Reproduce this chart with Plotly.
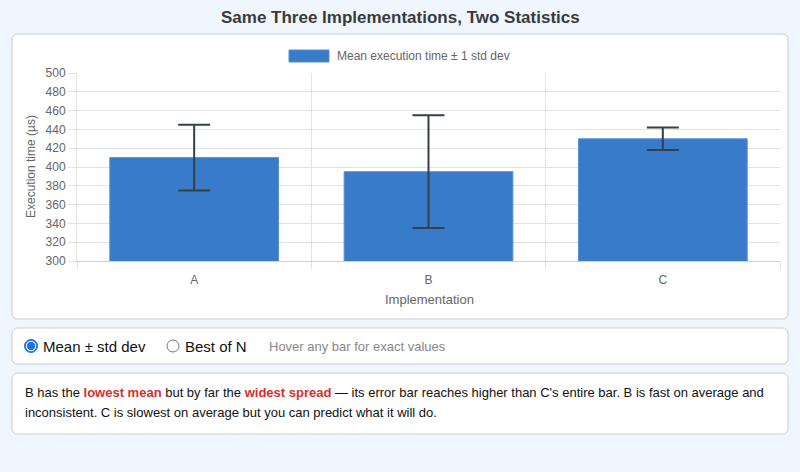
import plotly.graph_objects as go

# ---- data ----
implementations = ["A", "B", "C"]
mean_us = [410, 395, 430]
std_us = [35, 60, 12]
title_text = "Same Three Implementations, Two Statistics"
legend_text = "Mean execution time ± 1 std dev"
y_title = "Execution time (µs)"
x_title = "Implementation"

# ---- geometry helpers (pixel -> paper) ----
W, H = 800, 472
L, R, T, B = 77, 20, 73, 211
PW, PH = W - L - R, H - T - B
BG = "#eff6fe"


def px(x):
    return (x - L) / PW


def py(y):
    return (H - B - y) / PH


def rrect(x0, y0, x1, y1, r):
    pts = [
        ("M", (x0 + r, y0)), ("L", (x1 - r, y0)), ("Q", (x1, y0), (x1, y0 + r)),
        ("L", (x1, y1 - r)), ("Q", (x1, y1), (x1 - r, y1)),
        ("L", (x0 + r, y1)), ("Q", (x0, y1), (x0, y1 - r)),
        ("L", (x0, y0 + r)), ("Q", (x0, y0), (x0 + r, y0)),
    ]
    s = ""
    for p in pts:
        cmd = p[0]
        coords = " ".join(f"{px(a):.5f},{py(b):.5f}" for a, b in p[1:])
        s += f"{cmd} {coords} "
    return s + "Z"


def circ(cx, cy, r, **kw):
    return dict(type="circle", xref="paper", yref="paper",
                x0=px(cx - r), x1=px(cx + r), y0=py(cy + r), y1=py(cy - r), **kw)


FONT = "Liberation Sans, Arial, Helvetica, sans-serif"
BLUE = "#377bc9"

fig = go.Figure()
fig.add_trace(go.Bar(
    x=implementations, y=mean_us, width=0.72,
    marker=dict(color=BLUE, line=dict(color="#5a8fd6", width=1)),
    error_y=dict(type="data", array=std_us, visible=True,
                 color="#354049", thickness=2, width=16),
    name=legend_text, showlegend=False,
))

shapes = []
# panels
for (x0, y0, x1, y1) in [(12, 34, 788, 319), (12, 328, 788, 364), (12, 373, 788, 434)]:
    shapes.append(dict(type="path", path=rrect(x0, y0, x1, y1, 6), xref="paper", yref="paper",
                       fillcolor="white", line=dict(color="#c9cdd2", width=1), layer="below"))
# legend swatch
shapes.append(dict(type="rect", xref="paper", yref="paper",
                   x0=px(289), x1=px(329), y0=py(62), y1=py(50),
                   fillcolor=BLUE, line=dict(color="#5a8fd6", width=1)))
# radio buttons
shapes.append(circ(31, 346, 6.5, fillcolor="#1a73e8", line=dict(color="#1a73e8", width=1)))
shapes.append(circ(31, 346, 5.2, fillcolor="white", line=dict(width=0)))
shapes.append(circ(31, 346, 4.2, fillcolor="#1a73e8", line=dict(width=0)))
shapes.append(circ(173, 346, 6, fillcolor="white", line=dict(color="#767676", width=1)))

annotations = [
    dict(text=f"<b>{title_text}</b>", x=px(400), y=py(17), xref="paper", yref="paper",
         xanchor="center", yanchor="middle", showarrow=False,
         font=dict(size=17, color="#3a3a3a", family=FONT)),
    dict(text=legend_text, x=px(335), y=py(56), xref="paper", yref="paper",
         xanchor="left", yanchor="middle", showarrow=False,
         font=dict(size=12, color="#666", family=FONT)),
    dict(text=y_title, x=px(31), y=py(167), xref="paper", yref="paper", textangle=-90,
         xanchor="center", yanchor="middle", showarrow=False,
         font=dict(size=12, color="#666", family=FONT)),
    dict(text=x_title, x=px(429), y=py(299), xref="paper", yref="paper",
         xanchor="center", yanchor="middle", showarrow=False,
         font=dict(size=13, color="#666", family=FONT)),
    dict(text="Mean ± std dev", x=px(41), y=py(346), xref="paper", yref="paper",
         xanchor="left", yanchor="middle", showarrow=False,
         font=dict(size=15, color="#111", family=FONT)),
    dict(text="Best of N", x=px(183), y=py(346), xref="paper", yref="paper",
         xanchor="left", yanchor="middle", showarrow=False,
         font=dict(size=15, color="#111", family=FONT)),
    dict(text="Hover any bar for exact values", x=px(267), y=py(346), xref="paper", yref="paper",
         xanchor="left", yanchor="middle", showarrow=False,
         font=dict(size=13, color="#888", family=FONT)),
    dict(text=("B has the <span style='color:#d32f2f'><b>lowest mean</b></span> but by far the "
               "<span style='color:#d32f2f'><b>widest spread</b></span> — its error bar reaches higher "
               "than C's entire bar. B is fast on average and"),
         x=px(23), y=py(392), xref="paper", yref="paper",
         xanchor="left", yanchor="middle", showarrow=False,
         font=dict(size=13, color="#111", family=FONT)),
    dict(text="inconsistent. C is slowest on average but you can predict what it will do.",
         x=px(23), y=py(412), xref="paper", yref="paper",
         xanchor="left", yanchor="middle", showarrow=False,
         font=dict(size=13, color="#111", family=FONT)),
]

fig.update_layout(
    width=W, height=H,
    margin=dict(l=L, r=R, t=T, b=B, autoexpand=False),
    paper_bgcolor=BG, plot_bgcolor="rgba(0,0,0,0)",
    font=dict(family=FONT, size=12, color="#666"),
    shapes=shapes, annotations=annotations, showlegend=False,
)
fig.update_xaxes(
    type="category", tickson="boundaries", showgrid=True, gridcolor="#e3e3e3",
    ticks="outside", ticklen=7, tickcolor="#e3e3e3", ticklabelstandoff=8,
    showline=True, linecolor="#d0d0d0", automargin=False,
    tickfont=dict(size=12, color="#666"), range=[-0.5, 2.5], zeroline=False,
)
fig.update_yaxes(
    range=[300, 500], dtick=20, showgrid=True, gridcolor="#e3e3e3",
    ticks="outside", ticklen=8, tickcolor="#e3e3e3",
    showline=True, linecolor="#e3e3e3", automargin=False, zeroline=False,
    tickfont=dict(size=12, color="#666"),
)

fig.write_html(
    "out.html",
    config=dict(displayModeBar=False),
    post_script=(f"document.body.style.margin='0';document.body.style.padding='0';"
                 f"document.body.style.background='{BG}';"
                 f"document.documentElement.style.background='{BG}';"),
)
